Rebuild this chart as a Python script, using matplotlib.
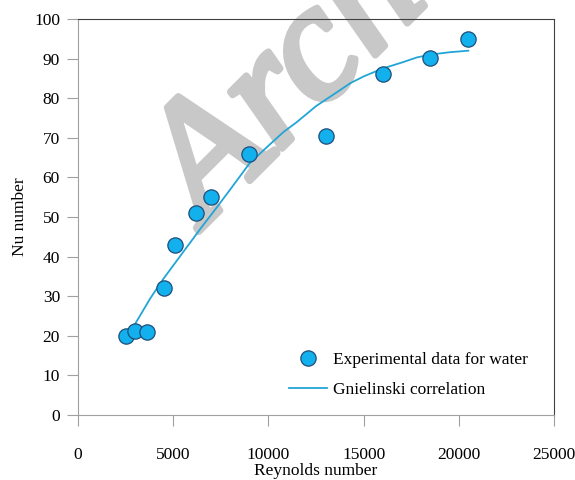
import matplotlib
matplotlib.use("Agg")
import matplotlib.pyplot as plt
import matplotlib.patheffects as pe

plt.rcParams['font.family'] = ['Liberation Serif', 'DejaVu Serif']

# experimental points (Re, Nu)
re_exp = [2500, 3000, 3600, 4500, 5100, 6200, 7000, 9000, 13000, 16000, 18500, 20500]
nu_exp = [20, 21.3, 21, 32, 43, 51, 55, 66, 70.5, 86, 90.2, 95]

# Gnielinski correlation curve
re_gn = [2900, 3800, 4500, 5500, 6500, 7300, 8000, 9000, 10000, 10800, 11500,
         12500, 13500, 14300, 15000, 16000, 17000, 17800, 18500, 19500, 20500]
nu_gn = [22.2, 29.5, 34.5, 41, 47.5, 52.5, 57, 63.5, 68, 71.5, 74,
         78, 81.2, 83.8, 85.5, 87.5, 89, 90.3, 91, 91.6, 92]

xticks = [0, 5000, 10000, 15000, 20000, 25000]
yticks = [0, 10, 20, 30, 40, 50, 60, 70, 80, 90, 100]

fig = plt.figure(figsize=(5.75, 4.8), dpi=100)
ax = fig.add_axes([0.1357, 0.1354, 0.8278, 0.825])

# watermark, under the data
wm_col = '#c8c8c8'
ax.text(0.357, 0.531, 'Archive', transform=fig.transFigure, fontsize=120,
        fontstyle='italic', color=wm_col, rotation=45, rotation_mode='anchor',
        ha='left', va='baseline', zorder=1, clip_on=False,
        path_effects=[pe.withStroke(linewidth=5, foreground=wm_col)])

ax.plot(re_exp, nu_exp, 'o', ms=11, mfc='#12b0ec', mec='#1f4e79', mew=0.9,
        ls='none', label='Experimental data for water', zorder=3)
ax.plot(re_gn, nu_gn, color='#22a5d6', lw=1.3, label='Gnielinski correlation', zorder=2)

ax.set_xlim(0, 25000)
ax.set_ylim(0, 100)
ax.set_xticks(xticks)
ax.set_yticks(yticks)

for s in ['left', 'bottom']:
    ax.spines[s].set_color('#a0a0a0')
for s in ['top', 'right']:
    ax.spines[s].set_color('#404040')
ax.tick_params(direction='out', length=8, color='#a0a0a0', labelsize=12.5)
ax.tick_params(axis='x', pad=15)
ax.tick_params(axis='y', pad=5)

ax.set_xlabel('Reynolds number', fontsize=12.5, labelpad=0)
ax.set_ylabel('Nu number', fontsize=12.5, labelpad=4)

leg = ax.legend(loc='upper left', bbox_to_anchor=(0.411, 0.20), frameon=False,
                fontsize=12.5, handlelength=2.2, handletextpad=0.3, labelspacing=0.85)

fig.savefig('out.png', dpi=100)
